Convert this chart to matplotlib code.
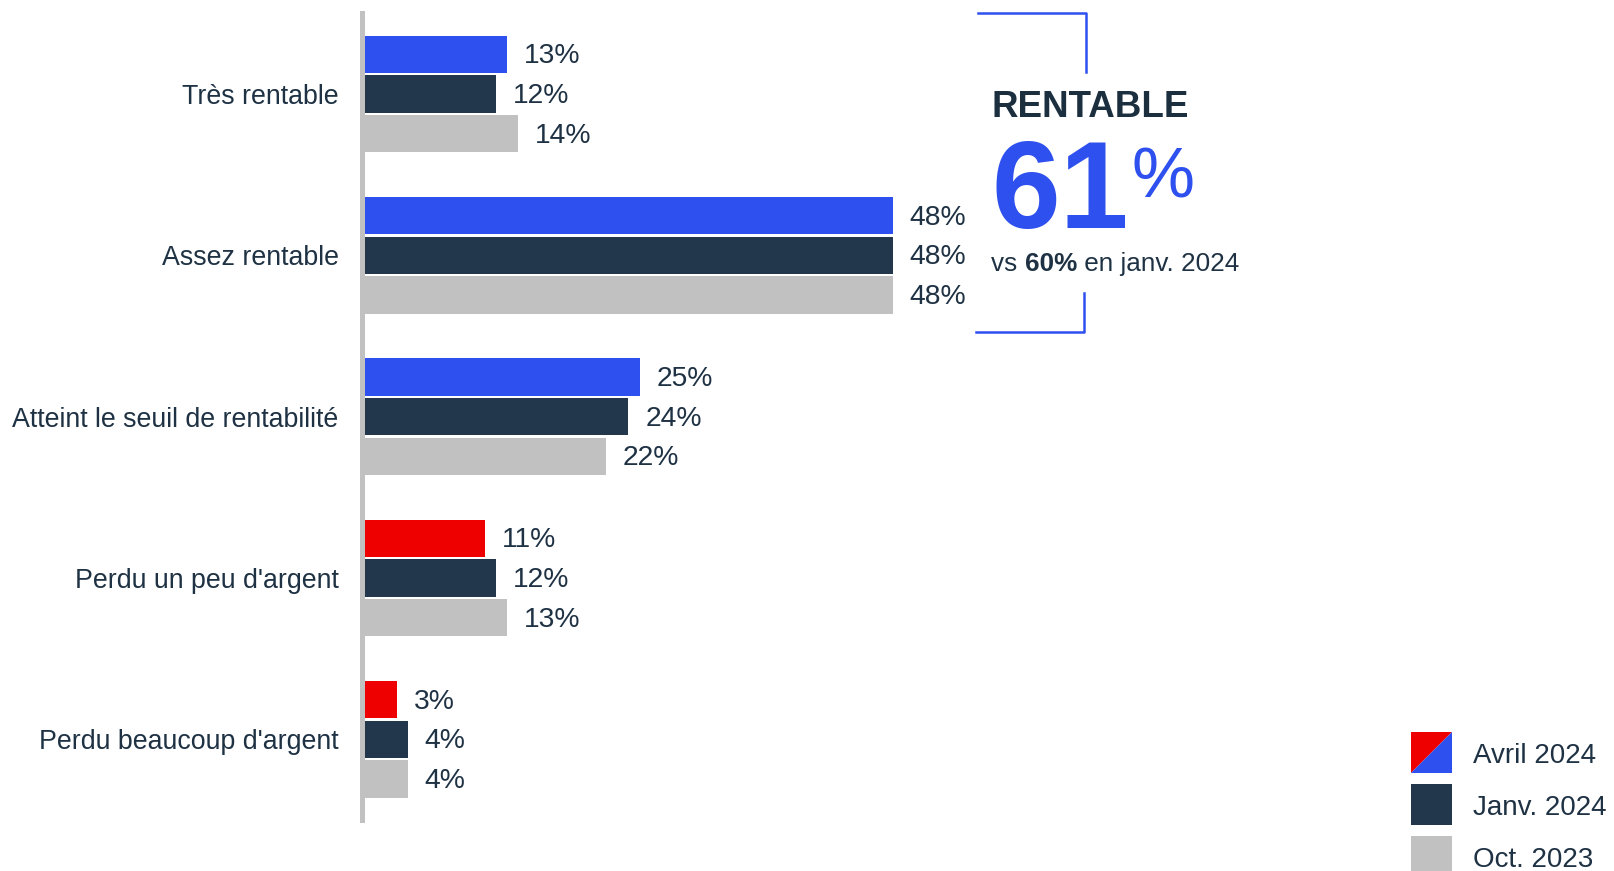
import matplotlib.pyplot as plt
from matplotlib.patches import Rectangle, Polygon

# ===== データ =====
categories = ["Très rentable", "Assez rentable", "Atteint le seuil de rentabilité",
              "Perdu un peu d'argent", "Perdu beaucoup d'argent"]
avril_2024 = [13, 48, 25, 11, 3]
janv_2024 = [12, 48, 24, 12, 4]
oct_2023 = [14, 48, 22, 13, 4]
series_labels = ["Avril 2024", "Janv. 2024", "Oct. 2023"]

rentable_total = 61
rentable_prev = 60

# ===== スタイル =====
BLUE = "#2e50ee"
RED = "#ee0000"
NAVY = "#22374b"
GRAY = "#c1c1c1"
TEXT = "#1f3244"
avril_colors = [BLUE, BLUE, BLUE, RED, RED]

plt.rcParams["font.family"] = ["Liberation Sans", "DejaVu Sans"]

W, H = 1614, 871
fig = plt.figure(figsize=(W / 100, H / 100), dpi=100)


def fx(x):
    return x / W


def fy(y):
    return 1 - y / H


px_per_pct = 11.02
ax_left = 361.5
ax_top, ax_bot = 13.4, 820
ax = fig.add_axes([fx(ax_left), fy(ax_bot), 1100 / W, (ax_bot - ax_top) / H])
ax.set_xlim(-2.5 / px_per_pct, -2.5 / px_per_pct + 1100 / px_per_pct)
ax.set_ylim(len(categories) - 0.5, -0.5)

bar_h = 0.232
off = 0.246
ypos = list(range(len(categories)))

series = [
    ([y - off for y in ypos], avril_2024, avril_colors),
    (ypos, janv_2024, [NAVY] * len(ypos)),
    ([y + off for y in ypos], oct_2023, [GRAY] * len(ypos)),
]
for yy, vals, cols in series:
    ax.barh(yy, vals, height=bar_h, color=cols, edgecolor="none")
    for y, v in zip(yy, vals):
        ax.annotate(f"{v}%", xy=(v, y), xytext=(12, -1.5), textcoords="offset points",
                    va="center", ha="left", fontsize=20.3, color=TEXT)

ax.set_yticks(ypos)
ax.set_yticklabels(categories, fontsize=19.3, color=TEXT)
ax.tick_params(axis="y", length=0, pad=16.5)
ax.set_xticks([])
for s in ["top", "right", "bottom"]:
    ax.spines[s].set_visible(False)
ax.spines["left"].set_color(GRAY)
ax.spines["left"].set_linewidth(3.6)
ax.patch.set_visible(False)

# ===== 注釈（RENTABLE） =====
fig.add_artist(plt.Line2D([fx(978), fx(1086), fx(1086)], [fy(12.7), fy(12.7), fy(71.7)],
                          color=BLUE, lw=1.8, transform=fig.transFigure))
fig.add_artist(plt.Line2D([fx(1084), fx(1084), fx(976)], [fy(292.7), fy(331.7), fy(331.7)],
                          color=BLUE, lw=1.8, transform=fig.transFigure))

fig.text(fx(991), fy(117), "RENTABLE", fontsize=26.5, fontweight="bold",
         color="#1b2f3f", va="baseline", ha="left")
fig.text(fx(992), fy(228), f"{rentable_total}", fontsize=89, fontweight="bold",
         color=BLUE, va="baseline", ha="left")
fig.text(fx(1132), fy(197), "%", fontsize=51, color=BLUE, va="baseline", ha="left")

t1 = fig.text(fx(991), fy(271), "vs ", fontsize=18.8, color=TEXT, va="baseline", ha="left")
t2 = fig.text(0, 0, f"{rentable_prev}%", fontsize=18.8, fontweight="bold", color=TEXT)
t3 = fig.text(0, 0, " en janv. 2024", fontsize=18.8, color=TEXT)
fig.canvas.draw()
r = fig.canvas.get_renderer()
x = t1.get_window_extent(r).x1
t2.set_position((x / W, fy(271)))
t2.set_va("baseline")
x = t2.get_window_extent(r).x1
t3.set_position((x / W, fy(271)))
t3.set_va("baseline")

# ===== 凡例 =====
sq = 41
lx = 1411
rows_y = [732, 784, 836]
x0, x1 = fx(lx), fx(lx + sq)
y0, y1 = fy(rows_y[0] + sq), fy(rows_y[0])
fig.add_artist(Polygon([(x0, y0), (x0, y1), (x1, y1)], closed=True, color=RED,
                       transform=fig.transFigure, lw=0))
fig.add_artist(Polygon([(x0, y0), (x1, y1), (x1, y0)], closed=True, color=BLUE,
                       transform=fig.transFigure, lw=0))
for ry, col in zip(rows_y[1:], [NAVY, GRAY]):
    fig.add_artist(Rectangle((fx(lx), fy(ry + sq)), sq / W, sq / H, color=col, lw=0,
                             transform=fig.transFigure))
for ry, lab in zip(rows_y, series_labels):
    fig.text(fx(1473), fy(ry + sq / 2 + 3), lab, fontsize=20, color=TEXT, va="center", ha="left")

fig.savefig("out.png", dpi=100)
